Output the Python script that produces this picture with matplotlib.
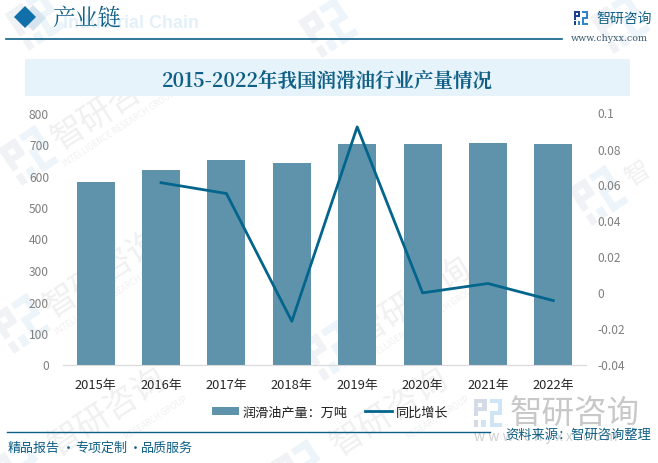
import matplotlib
matplotlib.use('Agg')
import matplotlib.pyplot as plt
import matplotlib.transforms as T
from matplotlib.patches import Rectangle, Polygon

W, H = 658, 464
years = ['2015年', '2016年', '2017年', '2018年', '2019年', '2020年', '2021年', '2022年']
output = [579, 617, 650, 640, 700, 700, 703, 700]
growth = [None, 0.061, 0.055, -0.016, 0.092, -0.0002, 0.005, -0.0045]
left_ticks = [0, 100, 200, 300, 400, 500, 600, 700, 800]
right_ticks = [-0.04, -0.02, 0, 0.02, 0.04, 0.06, 0.08, 0.1]
right_labels = ['-0.04', '-0.02', '0', '0.02', '0.04', '0.06', '0.08', '0.1']

plt.rcParams['font.family'] = ['Noto Sans CJK SC', 'DejaVu Sans']
SERIF = ['Noto Serif CJK SC', 'Noto Sans CJK SC', 'DejaVu Sans']
BLUE = '#0F5F86'
BAR = '#5F93AC'
LINE = '#03658C'

fig = plt.figure(figsize=(W / 100, H / 100), dpi=100, facecolor='white')
bg = fig.add_axes([0, 0, 1, 1])
bg.set_xlim(0, W)
bg.set_ylim(H, 0)
bg.axis('off')


def logo(x, y, s, c1, c2, rot=0, z=1):
    tr = T.Affine2D().rotate_deg_around(x, y, rot) + bg.transData
    u = s / 10
    for (a, b, w, h, c) in [
        (0, 0, 4.5, 1.6, c1), (0, 0, 1.6, 6.2, c1), (3, 0, 1.6, 4, c1), (0, 3, 4.5, 1.4, c1),
        (0, 7.4, 1.6, 2.6, c1), (5.6, 0, 4.4, 1.6, c2), (8.4, 0, 1.6, 5.6, c2),
        (5.6, 4.2, 4.4, 1.4, c2), (5.6, 4.2, 1.6, 5.8, c2), (5.6, 8.4, 4.4, 1.6, c2), (2.6, 7.4, 1.8, 2.6, c2)]:
        bg.add_patch(Rectangle((x + a * u, y + b * u), w * u, h * u, fc=c, ec='none', transform=tr, zorder=z))


# faint watermarks
WM1, WM2, WMT = '#F0F2F6', '#EDF5FA', '#F0F0F0'
for (x, y) in [(-2, 150), (-10, 318), (300, 345)]:
    logo(x, y, 44, WM1, WM2, rot=-33)
    bg.text(x + 57, y - 8, '智研咨询', fontsize=24, color=WMT, rotation=33,
            rotation_mode='anchor', ha='left', va='center', zorder=1)
    bg.text(x + 66, y + 15, 'INTELLIGENCE RESEARCH GROUP', fontsize=6, color=WMT, rotation=33,
            rotation_mode='anchor', ha='left', va='center', zorder=1)
for (x, y) in [(-12, 464), (270, 464)]:
    logo(x, y, 44, WM1, WM2, rot=-33)
    bg.text(x + 64, y - 16, '智研咨询', fontsize=24, color=WMT, rotation=33,
            rotation_mode='anchor', ha='left', va='center', zorder=1)
    bg.text(x + 138, y - 26, 'RESEARCH GROUP', fontsize=6, color=WMT, rotation=33,
            rotation_mode='anchor', ha='left', va='center', zorder=1)
logo(568, 190, 44, WM1, WM2, rot=-33)
bg.text(628, 180, '智', fontsize=18, color=WMT, rotation=33,
        rotation_mode='anchor', ha='left', va='center', zorder=1)
for (x, y) in [(5, 15), (298, 22), (590, 18)]:
    logo(x, y, 44, WM1, WM2, rot=-33)

# header
bg.add_patch(Polygon([(33, 6), (46, 19), (33, 32), (20, 19)], fc='#D5E4EE', ec='none', zorder=2))
bg.add_patch(Polygon([(25, 7), (36, 18), (25, 29), (14, 18)], fc='#1170AA', ec='none', zorder=3))
bg.text(63, 24, 'Industrial Chain', fontsize=13, fontweight='bold', color='#E3F0F9',
        family='Liberation Sans', va='center', zorder=2)
bg.text(52, 18, '产业链', fontsize=16.5, color=BLUE, family=SERIF, va='center', zorder=3)
bg.plot([6, 562], [39.5, 39.5], color=BLUE, lw=1.2, zorder=3)
logo(574, 12, 14, '#1F3F8F', '#2E86C8', z=3)
bg.text(596, 19, '智研咨询', fontsize=10, color=BLUE, va='center', zorder=3)
bg.text(571, 38.5, 'www.chyxx.com', fontsize=6.8, color='#3B5A70', family='DejaVu Serif', va='center', zorder=3)

# title band
bg.add_patch(Rectangle((25, 60), 605, 37, fc='#E6F3FB', ec='none', zorder=2))
bg.text(327, 80.5, '2015-2022年我国润滑油行业产量情况', fontsize=14, fontweight='bold', color=BLUE,
        family=SERIF, ha='center', va='center', zorder=3)

# footer
bg.plot([7, 490], [433, 433], color=BLUE, lw=1.0, zorder=3)
for fx, piece in [(8, '精品报告'), (61.5, '·'), (75, '专项定制'), (128.5, '·'), (141, '品质服务')]:
    bg.text(fx, 448.5, piece, fontsize=9.4, color=BLUE, va='center', zorder=4)
logo(474, 400, 28, '#D4DBE7', '#CFE4F5', z=2)
bg.text(510, 414, '智研咨询', fontsize=23.4, color='#C8C8C8', va='center', zorder=2)
bg.text(474, 437, 'w w w . c h y x x . c o m', fontsize=10, color='#D0D0D0', va='center', zorder=2)
bg.text(505, 434.5, '资料来源：智研咨询整理', fontsize=9.55, color=BLUE, va='center', zorder=4)

# chart
ax = fig.add_axes([63 / W, 1 - 365.5 / H, 523 / W, 252 / H])
ax.patch.set_alpha(0)
x = list(range(len(years)))
b = ax.bar(x, output, width=0.58, color=BAR, label='润滑油产量：万吨', zorder=2)
ax.set_xlim(-0.5, 7.5)
ax.set_ylim(0, 800)
ax.set_yticks(left_ticks)
ax.set_xticks(x, years)
ax.tick_params(length=0)
ax.tick_params(axis='y', pad=10, labelsize=8.6, labelcolor='#7F7F7F')
ax.tick_params(axis='x', pad=10, labelsize=9.3, labelcolor='#262626')
for s in ax.spines.values():
    s.set_visible(False)
ax.spines['bottom'].set_visible(True)
ax.spines['bottom'].set_color('#D9D9D9')

ax2 = ax.twinx()
ax2.patch.set_alpha(0)
xs = [i for i, v in zip(x, growth) if v is not None]
ys = [v for v in growth if v is not None]
l, = ax2.plot(xs, ys, color=LINE, lw=2.0, label='同比增长', zorder=3)
ax2.set_ylim(-0.04, 0.1)
ax2.set_yticks(right_ticks, right_labels)
ax2.tick_params(length=0, labelsize=8.6, labelcolor='#7F7F7F', pad=8)
for s in ax2.spines.values():
    s.set_visible(False)

fig.legend(handles=[b, l], labels=['润滑油产量：万吨', '同比增长'], ncol=2, frameon=False,
           loc='center', bbox_to_anchor=(330 / W, 1 - 413 / H), fontsize=9.45,
           handlelength=2.05, handleheight=0.5, columnspacing=1.3, handletextpad=0.3,
           labelcolor='#202020')

fig.savefig('out.png', dpi=100)
